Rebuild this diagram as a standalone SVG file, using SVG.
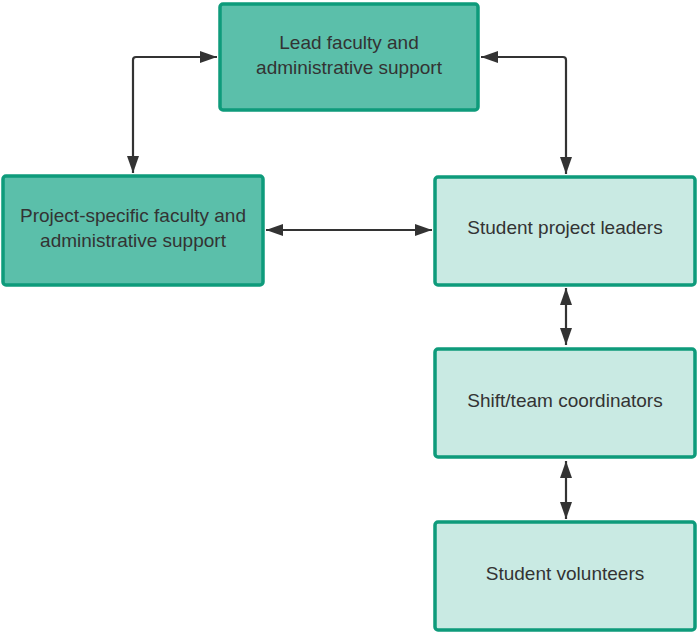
<svg xmlns="http://www.w3.org/2000/svg" width="700" height="635" viewBox="0 0 700 635">
<style>
.dark{fill:#5bbfaa;stroke:#0e9b7b;stroke-width:3.5}
.light{fill:#c9eae3;stroke:#0e9b7b;stroke-width:3.5}
text{font-family:"Liberation Sans",Arial,sans-serif;font-size:19px;fill:#333333;text-anchor:middle}
.con{fill:none;stroke:#333333;stroke-width:2.2}
</style>
<defs>
<marker id="ah" viewBox="0 0 17 12" refX="17" refY="6" markerWidth="17" markerHeight="12" markerUnits="userSpaceOnUse" orient="auto-start-reverse">
<path d="M0,0 L17,6 L0,12 z" fill="#333333"/>
</marker>
</defs>
<g id="connectors">
<path class="con" d="M217,57 L136,57 Q133,57 133,60 L133,173" marker-start="url(#ah)" marker-end="url(#ah)"/>
<path class="con" d="M481,57 L563,57 Q566,57 566,60 L566,174" marker-start="url(#ah)" marker-end="url(#ah)"/>
<path class="con" d="M266,230 L432,230" marker-start="url(#ah)" marker-end="url(#ah)"/>
<path class="con" d="M566,288 L566,345" marker-start="url(#ah)" marker-end="url(#ah)"/>
<path class="con" d="M566,461 L566,519" marker-start="url(#ah)" marker-end="url(#ah)"/>
</g>
<g id="lead">
<rect class="dark" x="220" y="4" width="258" height="106" rx="3"/>
<text x="349" y="49">Lead faculty and</text>
<text x="349" y="74">administrative support</text>
</g>
<g id="project">
<rect class="dark" x="3" y="176" width="260" height="109" rx="3"/>
<text x="133" y="222">Project-specific faculty and</text>
<text x="133" y="247">administrative support</text>
</g>
<g id="leaders">
<rect class="light" x="435" y="177" width="260" height="108" rx="3"/>
<text x="565" y="234">Student project leaders</text>
</g>
<g id="coordinators">
<rect class="light" x="435" y="349" width="260" height="108" rx="3"/>
<text x="565" y="407">Shift/team coordinators</text>
</g>
<g id="volunteers">
<rect class="light" x="435" y="522" width="260" height="108" rx="3"/>
<text x="565" y="580">Student volunteers</text>
</g>
</svg>
